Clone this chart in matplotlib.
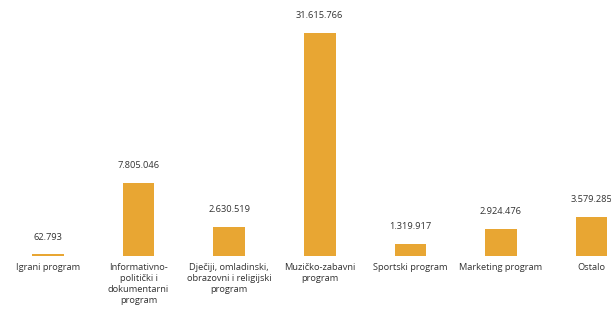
import matplotlib
matplotlib.use("Agg")
import matplotlib.pyplot as plt

# categories and data
categories = [
    "Igrani program",
    "Informativno-\npolitički i\ndokumentarni\nprogram",
    "Dječiji, omladinski,\nobrazovni i religijski\nprogram",
    "Muzičko-zabavni\nprogram",
    "Sportski program",
    "Marketing program",
    "Ostalo",
]
value_labels = ["62.793", "7.805.046", "2.630.519", "31.615.766",
                "1.319.917", "2.924.476", "3.579.285"]
# bar heights as drawn in the chart (millions)
bar_heights = [0.22, 10.35, 4.15, 31.62, 1.70, 3.87, 5.49]

plt.rcParams['font.family'] = ['Open Sans', 'DejaVu Sans']

fig = plt.figure(figsize=(6.11, 3.11), dpi=100)
ax = fig.add_axes([0, 55 / 311, 1, 256 / 311])

x = list(range(len(categories)))
bars = ax.bar(x, bar_heights, width=0.35, color="#E8A633")

for b, lab in zip(bars, value_labels):
    ax.annotate(lab, (b.get_x() + b.get_width() / 2, b.get_height()),
                xytext=(0, 12.5), textcoords="offset points",
                ha="center", va="center", fontsize=6.7, color="#333333")

ax.set_xticks(x)
ax.set_xticklabels(categories, fontsize=6.7, color="#333333", linespacing=1.3,
                   va="top")
ax.tick_params(axis="x", length=0, pad=5)
ax.set_yticks([])
ax.set_xlim(-0.53, 6.215)
ax.set_ylim(0, 256 / 7.053)
for s in ax.spines.values():
    s.set_visible(False)

fig.savefig("out.png", dpi=100)
